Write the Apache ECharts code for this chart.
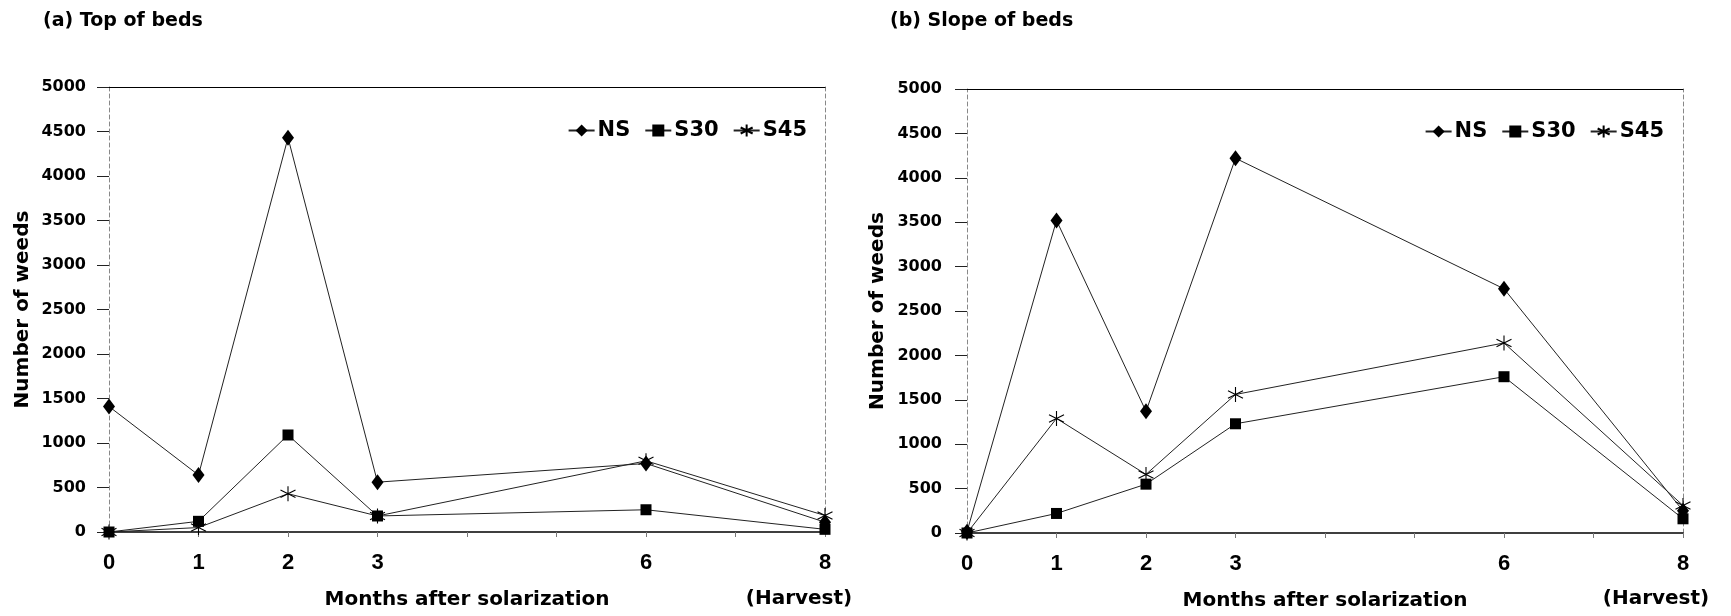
<!DOCTYPE html>
<html>
<head>
<meta charset="utf-8">
<script src="https://cdn.jsdelivr.net/npm/echarts@6/dist/echarts.min.js"></script>
<style>
html,body{margin:0;padding:0;background:#fff;}
#chart{width:1731px;height:616px;}
</style>
</head>
<body>
<div id="chart"></div>
<script>
// ---- data ----
const months = [0, 1, 2, 3, 6, 8];
const xTickLabels = ['0', '1', '2', '3', '6', '8'];
const seriesNames = ['NS', 'S30', 'S45'];
const panelTitles = ['(a) Top of beds', '(b) Slope of beds'];
const xAxisTitle = 'Months after solarization';
const yAxisTitle = 'Number of weeds';
const harvestLabel = '(Harvest)';

const topNS  = [1410, 640, 4430, 560, 770, 110];
const topS30 = [0, 120, 1090, 180, 250, 30];
const topS45 = [0, 50, 430, 180, 800, 185];

const slopeNS  = [15, 3520, 1370, 4220, 2750, 250];
const slopeS30 = [0, 220, 550, 1230, 1760, 160];
const slopeS45 = [0, 1290, 660, 1560, 2140, 310];

// ---- styling ----
const WIDE = "'DejaVu Sans', sans-serif";
const NARROW = "'Liberation Sans Narrow', 'Liberation Sans', sans-serif";
const starPath = 'path://M10 0 L10 20 M1.34 5 L18.66 15 M1.34 15 L18.66 5';

const markerDefs = {
  NS:  { symbol: 'diamond', symbolSize: [12, 16], itemStyle: { color: '#000' } },
  S30: { symbol: 'rect', symbolSize: 11, itemStyle: { color: '#000' } },
  S45: { symbol: starPath, symbolSize: 15, itemStyle: { color: 'none', borderColor: '#000', borderWidth: 1.1 } }
};

function pairs(arr) { return months.map((m, i) => [m, arr[i]]); }

const panels = [
  { data: [topNS, topS30, topS45] },
  { data: [slopeNS, slopeS30, slopeS45] }
];

const grids = [
  { left: 109, right: 906, top: 87, bottom: 84 },
  { left: 967, right: 48, top: 89, bottom: 83 }
];

const xAxes = [], yAxes = [], series = [];
grids.forEach((g, gi) => {
  xAxes.push({
    gridIndex: gi, type: 'value', min: 0, max: 8, interval: 1,
    name: xAxisTitle, nameLocation: 'middle', nameGap: 58,
    nameTextStyle: { fontFamily: WIDE, fontWeight: 'bold', fontSize: 20, color: '#000' },
    axisLine: { show: true, lineStyle: { color: '#000', width: 1.5 } },
    axisTick: { show: true, length: 5, lineStyle: { color: '#777', width: 1 } },
    axisLabel: {
      margin: 20, fontFamily: NARROW, fontWeight: 'bold', fontSize: 22, color: '#000',
      formatter: v => xTickLabels.includes(String(v)) ? String(v) : ''
    },
    splitLine: { show: false }
  });
  xAxes.push({
    gridIndex: gi, type: 'value', min: 0, max: 8, position: 'top',
    axisLine: { show: true, onZero: false, lineStyle: { color: '#000', width: 1.2 } },
    axisTick: { show: false }, axisLabel: { show: false }, splitLine: { show: false }
  });
  yAxes.push({
    gridIndex: gi, type: 'value', min: 0, max: 5000, interval: 500,
    name: yAxisTitle, nameLocation: 'middle', nameRotate: 90, nameGap: gi === 0 ? 76 : 79,
    nameTextStyle: { fontFamily: WIDE, fontWeight: 'bold', fontSize: 20, color: '#000' },
    axisLine: { show: true, lineStyle: { color: '#888', width: 1, type: [4, 3] } },
    axisTick: { show: true, length: 12, lineStyle: { color: '#222', width: 1 } },
    axisLabel: {
      margin: gi === 0 ? 23 : 25, fontFamily: WIDE, fontWeight: 'bold', fontSize: 16, color: '#000',
      formatter: v => String(v)
    },
    splitLine: { show: false }
  });
  yAxes.push({
    gridIndex: gi, type: 'value', min: 0, max: 5000, position: 'right',
    axisLine: { show: true, onZero: false, lineStyle: { color: '#888', width: 1, type: [4, 3] } },
    axisTick: { show: false }, axisLabel: { show: false }, splitLine: { show: false }
  });
  seriesNames.forEach((name, si) => {
    const md = markerDefs[name];
    series.push({
      name: name, type: 'line',
      xAxisIndex: gi * 2, yAxisIndex: gi * 2,
      data: pairs(panels[gi].data[si]),
      symbol: md.symbol, symbolSize: md.symbolSize,
      showAllSymbol: true,
      itemStyle: md.itemStyle,
      lineStyle: { color: '#222', width: 1 },
      emphasis: { disabled: true },
      animation: false
    });
  });
});

const legendCommon = {
  data: seriesNames,
  orient: 'horizontal',
  itemWidth: 26, itemHeight: 15, itemGap: 14,
  textStyle: { fontFamily: WIDE, fontWeight: 'bold', fontSize: 21, color: '#000', padding: [0, 0, 0, -2] },
  selectedMode: false
};

const option = {
  backgroundColor: '#fff',
  animation: false,
  grid: grids,
  xAxis: xAxes,
  yAxis: yAxes,
  legend: [
    Object.assign({ right: 919, top: 115 }, legendCommon),
    Object.assign({ right: 62, top: 116 }, legendCommon)
  ],
  series: series,
  graphic: [
    { type: 'text', left: 43, top: 12, style: { text: panelTitles[0], fontFamily: WIDE, fontWeight: 'bold', fontSize: 19, fill: '#000' } },
    { type: 'text', left: 890, top: 12, style: { text: panelTitles[1], fontFamily: WIDE, fontWeight: 'bold', fontSize: 19, fill: '#000' } },
    { type: 'text', x: 799, y: 599, style: { text: harvestLabel, fontFamily: WIDE, fontWeight: 'bold', fontSize: 20, fill: '#000', align: 'center', verticalAlign: 'middle' } },
    { type: 'text', x: 1656, y: 599, style: { text: harvestLabel, fontFamily: WIDE, fontWeight: 'bold', fontSize: 20, fill: '#000', align: 'center', verticalAlign: 'middle' } }
  ]
};

const chart = echarts.init(document.getElementById('chart'), null, { renderer: 'canvas' });
chart.setOption(option);
</script>
</body>
</html>
